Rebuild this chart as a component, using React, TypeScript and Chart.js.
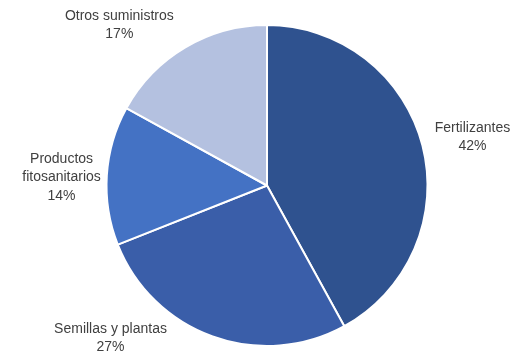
import React, { useEffect, useRef } from "react";
import { Chart, registerables } from "chart.js";

Chart.register(...registerables);

const categories = ["Fertilizantes", "Semillas y plantas", "Productos fitosanitarios", "Otros suministros"];
const shares = [42, 27, 14, 17];
const colors = ["#2F528F", "#3A5EA9", "#4472C4", "#B4C1E0"];
// label text lines (category split as in original)
const labelLines = [["Fertilizantes"], ["Semillas y plantas"], ["Productos", "fitosanitarios"], ["Otros suministros"]];
// label anchor offsets relative to pie centre, in units of radius
const labelOffsets: [number, number][] = [
  [1.28, -0.3],
  [-0.975, 0.95],
  [-1.28, -0.05],
  [-0.92, -1.0],
];

const labelPlugin = {
  id: "sliceLabels",
  afterDatasetsDraw(chart: any) {
    const meta = chart.getDatasetMeta(0);
    const arc = meta.data[0];
    if (!arc) return;
    const { x, y, outerRadius } = arc.getProps(["x", "y", "outerRadius"], true);
    const ctx = chart.ctx;
    ctx.save();
    ctx.fillStyle = "#404040";
    ctx.font = "14px 'Liberation Sans', Arial, sans-serif";
    ctx.textAlign = "center";
    ctx.textBaseline = "middle";
    const lh = 18.5;
    categories.forEach((_, i) => {
      const lines = [...labelLines[i], shares[i] + "%"];
      const cx = x + labelOffsets[i][0] * outerRadius;
      const cy = y + labelOffsets[i][1] * outerRadius;
      const top = cy - ((lines.length - 1) * lh) / 2;
      lines.forEach((t, j) => ctx.fillText(t, cx, top + j * lh));
    });
    ctx.restore();
  },
};

export default function App() {
  const ref = useRef<HTMLCanvasElement>(null);
  useEffect(() => {
    document.body.style.margin = "0";
    const chart = new Chart(ref.current!, {
      type: "pie",
      data: {
        labels: categories,
        datasets: [
          {
            data: shares,
            backgroundColor: colors,
            borderColor: "#FFFFFF",
            borderWidth: 2,
          },
        ],
      },
      options: {
        animation: false,
        responsive: false,
        maintainAspectRatio: false,
        layout: { padding: { left: 105, right: 85, top: 24, bottom: 8 } },
        plugins: { legend: { display: false }, tooltip: { enabled: false } },
      },
      plugins: [labelPlugin],
    });
    return () => chart.destroy();
  }, []);
  return (
    <div style={{ width: 514, height: 355, background: "#fff" }}>
      <canvas ref={ref} width={514} height={355} style={{ width: 514, height: 355, display: "block" }} />
    </div>
  );
}
